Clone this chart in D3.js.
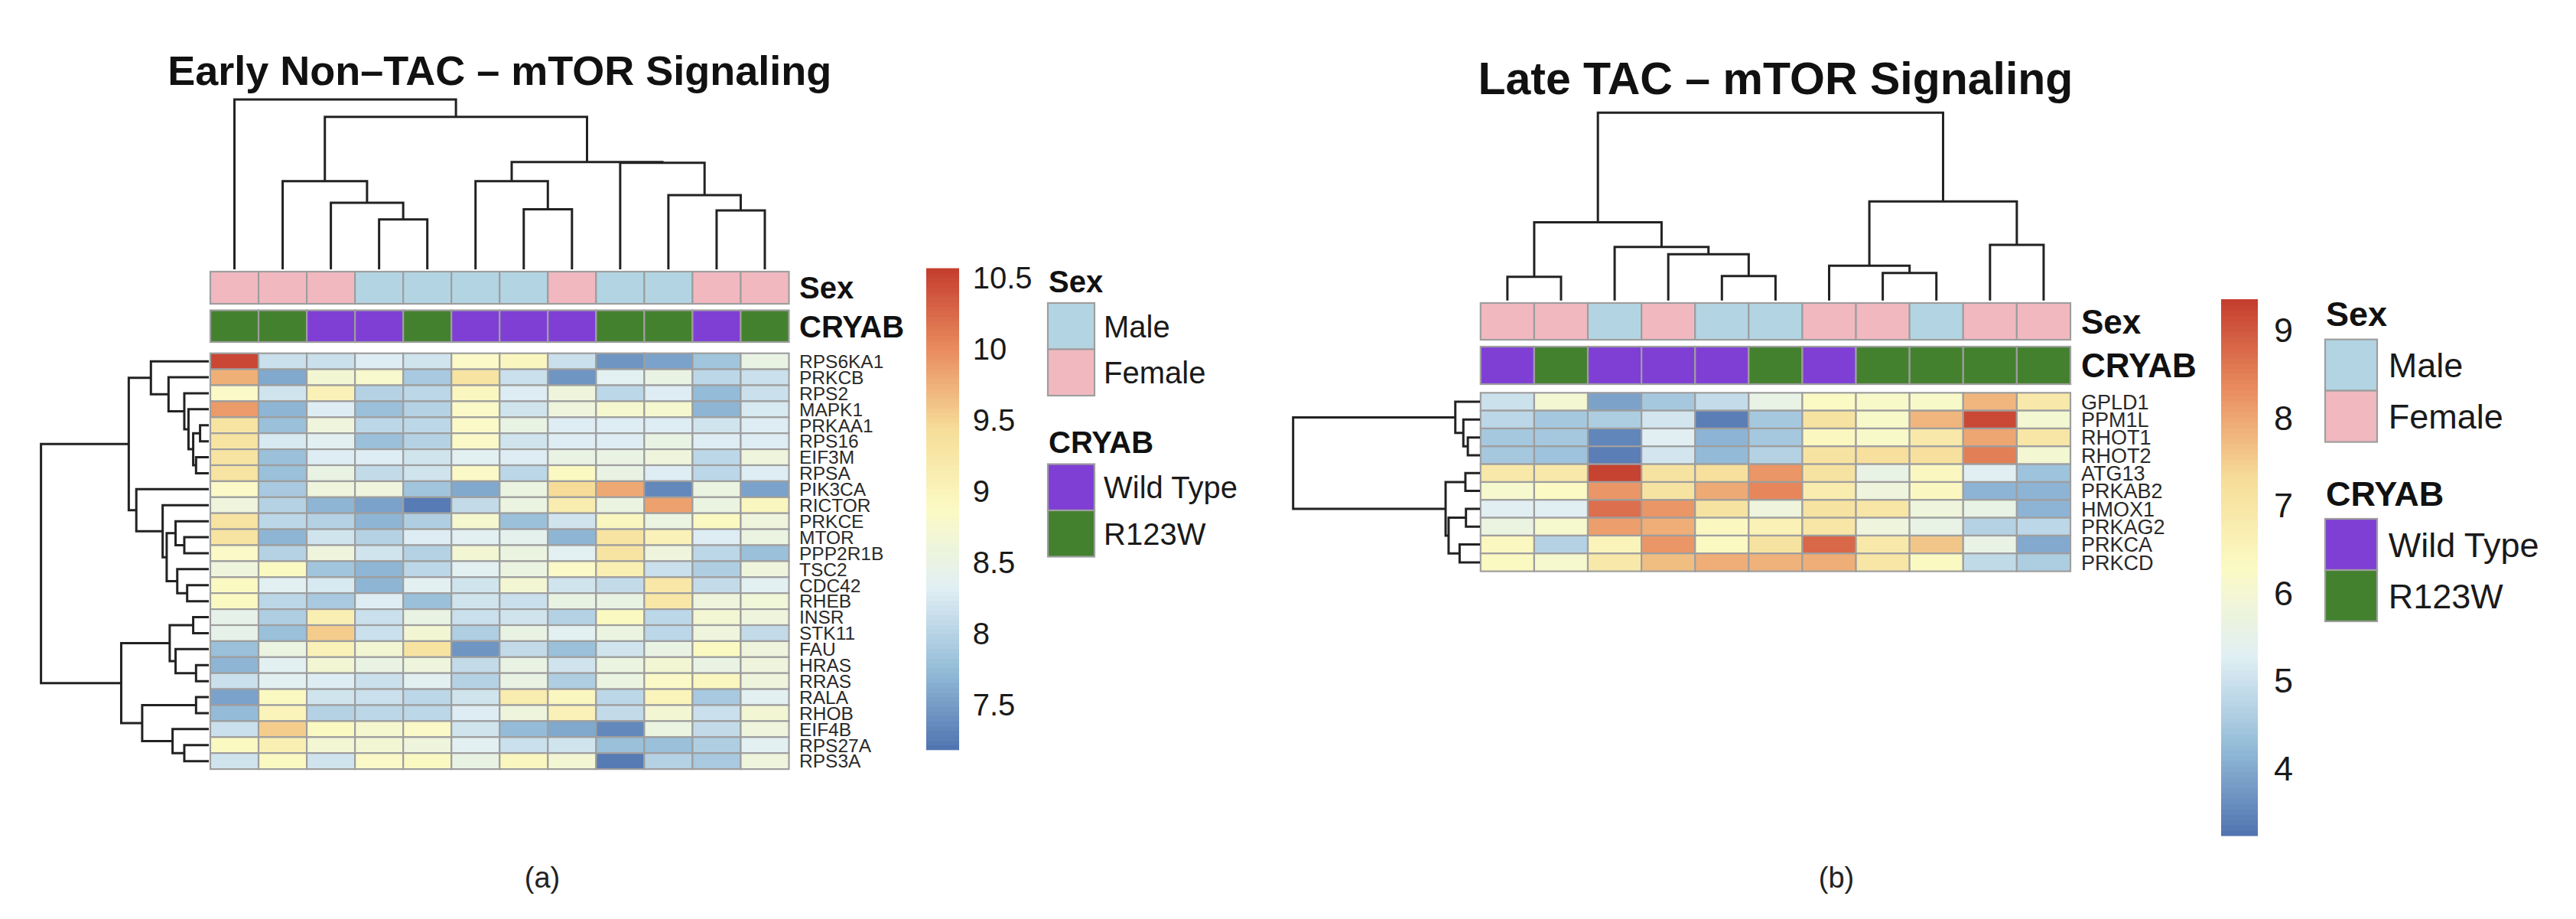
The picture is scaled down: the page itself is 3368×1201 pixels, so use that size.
<!DOCTYPE html>
<html><head><meta charset="utf-8">
<script src="https://cdn.jsdelivr.net/npm/d3@7"></script>
<style>
body{margin:0;background:#fff}
svg{display:block}
text{font-family:"Liberation Sans",Arial,Helvetica,sans-serif}
</style>
</head><body>
<svg id="chart" width="3368" height="1201"></svg>
<script>
// ===================== DATA =====================
const palette = ["#5073B0","#94BCD8","#E0EFF4","#FBFAC4","#F6DD98","#E98B5E","#C43D2E"];
const sexLevels = ["Male","Female"];
const sexColors = ["#B3D5E3","#F2B8C0"];
const cryabLevels = ["Wild Type","R123W"];
const cryabColors = ["#7F3FD5","#44812F"];

// ---- Panel (a): Early Non-TAC ----
const leftTitle = "Early Non\u2013TAC \u2013 mTOR Signaling";
const leftGenes = ["RPS6KA1","PRKCB","RPS2","MAPK1","PRKAA1","RPS16","EIF3M","RPSA","PIK3CA","RICTOR","PRKCE","MTOR","PPP2R1B","TSC2","CDC42","RHEB","INSR","STK11","FAU","HRAS","RRAS","RALA","RHOB","EIF4B","RPS27A","RPS3A"];
const leftSex = ["Female","Female","Female","Male","Male","Male","Male","Female","Male","Male","Female","Female"];
const leftCryab = ["R123W","R123W","Wild Type","Wild Type","R123W","Wild Type","Wild Type","Wild Type","R123W","R123W","Wild Type","R123W"];
const leftValues = [
  [10.5,8.15,8.15,8.3,8.2,8.85,8.95,8.15,7.45,7.55,7.85,8.5],
  [9.75,7.6,8.7,8.8,7.9,9.3,8.15,7.45,8.35,8.5,8.05,8.15],
  [8.85,8.2,9.05,8.0,8.05,8.95,8.3,8.6,8.05,8.3,7.75,8.15],
  [9.9,7.7,8.3,7.8,8.0,8.85,8.2,8.6,8.75,8.75,7.7,8.25],
  [9.3,7.8,8.6,8.05,8.05,8.85,8.5,8.3,8.3,8.3,8.2,8.3],
  [9.3,8.25,8.35,7.8,8.0,8.85,8.2,8.3,8.3,8.5,8.3,8.3],
  [9.3,7.8,8.3,8.3,8.2,8.35,8.3,8.5,8.5,8.6,8.05,8.6],
  [9.3,7.8,8.5,8.1,8.2,8.85,8.05,8.9,8.5,8.3,8.05,8.3],
  [8.85,7.9,8.6,8.6,7.85,7.6,8.55,9.45,9.8,7.35,8.55,7.55],
  [8.6,8.0,7.7,7.55,7.25,8.1,8.55,9.15,8.55,9.85,8.55,8.95],
  [9.3,8.05,8.0,7.7,7.95,8.75,7.8,8.2,8.95,8.55,8.9,8.6],
  [9.3,7.7,8.2,8.0,8.3,8.35,8.4,7.7,9.3,9.05,8.3,8.55],
  [8.85,8.0,8.6,8.2,8.0,8.7,8.55,8.35,9.3,8.6,8.05,7.8],
  [8.6,8.9,7.85,7.7,8.05,8.35,8.55,8.85,9.1,8.15,7.95,8.6],
  [8.9,8.35,8.25,7.7,8.35,8.2,8.7,8.2,8.1,9.25,8.1,8.35],
  [8.9,8.05,7.9,8.3,7.8,8.2,8.15,8.5,8.5,9.25,8.6,8.65],
  [8.45,7.95,9.1,8.15,8.5,8.15,8.2,8.0,8.9,8.05,8.7,8.6],
  [8.45,7.8,9.55,8.15,8.7,7.95,8.5,8.35,8.55,8.05,8.6,8.1],
  [7.8,8.55,9.05,8.7,9.3,7.45,8.1,7.8,8.2,8.5,8.9,8.6],
  [7.7,8.35,8.7,8.5,8.6,8.1,8.5,8.2,8.55,8.7,8.5,8.6],
  [8.15,8.35,8.3,8.15,8.35,8.0,8.5,7.95,8.55,8.85,8.95,8.6],
  [7.55,8.9,8.2,8.15,8.05,8.2,9.15,8.95,8.05,9.0,7.9,8.35],
  [7.75,9.0,8.0,8.05,8.05,8.3,8.6,9.05,8.1,8.7,8.15,8.7],
  [8.15,9.55,8.9,8.75,8.85,8.2,7.75,7.6,7.35,8.55,8.1,8.6],
  [8.9,9.1,8.7,8.7,8.6,8.35,8.15,8.2,7.8,7.8,7.95,8.35],
  [8.2,8.9,8.2,8.85,8.9,8.5,8.95,8.7,7.25,8.0,7.9,8.6]
];
const leftRange = [7.19, 10.57];
const leftTicks = [7.5, 8, 8.5, 9, 9.5, 10, 10.5];
// hclust-style merges: negative = leaf -(index+1), positive = earlier merge (1-based); third = height
const leftColMerge = [
  [-4,-5,2.94],[-3,1,3.92],[-2,2,5.19],[-7,-8,3.54],[-6,4,5.19],[-11,-12,3.47],
  [-10,6,4.37],[-9,7,6.27],[5,8,6.32],[3,9,8.98],[-1,10,10.0]
];
const leftRowMerge = [
  [-5,-6,0.52],[-7,-8,0.76],[1,2,0.93],[-4,3,1.21],[-3,4,1.46],[-2,5,2.40],[-1,6,3.45],
  [-12,-13,1.46],[-11,8,1.98],[-15,-16,1.29],[-14,10,1.88],[9,11,2.51],[-10,12,2.75],
  [-9,13,4.32],[7,14,4.77],[-17,-18,0.93],[-20,-21,0.76],[-19,17,1.98],[16,18,2.33],
  [-22,-23,0.76],[-25,-26,1.46],[-24,21,2.16],[20,22,3.97],[19,23,5.22],[15,24,10.0]
];

// ---- Panel (b): Late TAC ----
const rightTitle = "Late TAC \u2013 mTOR Signaling";
const rightGenes = ["GPLD1","PPM1L","RHOT1","RHOT2","ATG13","PRKAB2","HMOX1","PRKAG2","PRKCA","PRKCD"];
const rightSex = ["Female","Female","Male","Female","Male","Male","Female","Female","Male","Female","Female"];
const rightCryab = ["Wild Type","R123W","Wild Type","Wild Type","Wild Type","R123W","Wild Type","R123W","R123W","R123W","R123W"];
const rightValues = [
  [5.0,6.0,3.9,4.5,4.9,5.6,6.3,6.2,6.2,7.8,6.9],
  [4.8,4.5,4.6,5.1,3.4,4.5,7.1,6.2,7.8,9.2,6.0],
  [4.5,4.5,3.5,5.3,4.15,4.5,6.4,6.2,6.9,8.0,7.0],
  [4.5,4.4,3.4,5.1,4.25,4.7,7.1,7.2,7.2,8.5,6.0],
  [6.9,6.9,9.3,7.1,7.2,8.2,7.1,5.6,6.4,5.3,4.4],
  [6.1,6.3,8.2,7.1,7.95,8.4,6.8,5.8,6.4,4.15,4.15],
  [5.3,5.3,8.7,8.2,7.1,5.8,7.1,7.0,5.8,5.6,4.15],
  [5.7,6.1,8.1,7.9,6.4,6.6,7.0,5.8,5.6,4.7,4.8],
  [6.4,4.7,6.5,8.2,6.35,7.1,8.8,6.9,7.6,5.6,4.0],
  [6.35,6.1,6.9,7.7,7.9,7.85,7.9,7.0,6.35,4.85,4.6]
];
const rightRange = [3.24, 9.36];
const rightTicks = [4, 5, 6, 7, 8, 9];
const rightColMerge = [
  [-1,-2,1.26],[-5,-6,1.30],[-4,2,2.46],[-3,3,2.85],[1,4,4.16],
  [-8,-9,1.47],[-7,6,1.85],[-10,-11,2.96],[7,8,5.27],[5,9,10.0]
];
const rightRowMerge = [
  [-3,-4,0.65],[-2,1,0.89],[-1,2,1.32],[-5,-6,0.78],[-7,-8,0.75],[-9,-10,1.09],
  [5,6,1.68],[4,7,1.84],[3,8,10.0]
];

const panelLabels = ["(a)","(b)"];

// ===================== LAYOUT =====================
const layouts = [
  { cols:[275,1031.5], rows:[461.7,1005.1], sexBar:[355,397], cryBar:[405.5,447],
    colDendro:[352,130], rowDendro:[273,53.6], titleY:111, titleSize:54,
    labelX:1045, rowFont:24.5, annFont:40,
    cbar:{x:1211,w:43,y:[979.7,350.5]}, tickPad:17.7,
    legend:{x:1370,boxW:61,boxH:60.5,sexTitleY:381.6,sexBoxY:396,cryTitleY:592,cryBoxY:606.5,labelX:1443,font:40},
    panelLabel:{x:709,y:1160} },
  { cols:[1935.8,2707], rows:[513.3,746.6], sexBar:[396,444], cryBar:[453,502],
    colDendro:[392.7,147.3], rowDendro:[1935,1690.7], titleY:123.3, titleSize:59,
    labelX:2721, rowFont:27, annFont:44,
    cbar:{x:2904,w:48,y:[1092,391]}, tickPad:21,
    legend:{x:3040,boxW:68,boxH:67,sexTitleY:426,sexBoxY:443.6,cryTitleY:661,cryBoxY:678,labelX:3122.7,font:45},
    panelLabel:{x:2401,y:1160} }
];

const panels = [
  {title:leftTitle, genes:leftGenes, sex:leftSex, cryab:leftCryab, values:leftValues, range:leftRange, ticks:leftTicks, colMerge:leftColMerge, rowMerge:leftRowMerge, label:panelLabels[0]},
  {title:rightTitle, genes:rightGenes, sex:rightSex, cryab:rightCryab, values:rightValues, range:rightRange, ticks:rightTicks, colMerge:rightColMerge, rowMerge:rightRowMerge, label:panelLabels[1]}
];

const svg = d3.select("#chart");
const BORDER = "#9e9e9e", LINE = "#222", TEXT = "#111";

const sexScale = d3.scaleOrdinal().domain(sexLevels).range(sexColors);
const cryScale = d3.scaleOrdinal().domain(cryabLevels).range(cryabColors);

function dendro(merge, leafPos) {
  const pos = [], hgt = [], segs = [];
  const get = c => c < 0 ? {p: leafPos(-c - 1), h: 0} : {p: pos[c - 1], h: hgt[c - 1]};
  merge.forEach(([a, b, h]) => {
    const A = get(a), B = get(b);
    pos.push((A.p + B.p) / 2); hgt.push(h);
    segs.push({A, B, h});
  });
  return segs;
}

panels.forEach((d, pi) => {
  const L = layouts[pi];
  const g = svg.append("g");
  const nCol = d.sex.length, nRow = d.genes.length;
  const x = d3.scaleBand().domain(d3.range(nCol)).range(L.cols);
  const y = d3.scaleBand().domain(d3.range(nRow)).range(L.rows);
  const lo = d.range[0], hi = d.range[1];
  const color = d3.scaleLinear()
    .domain(d3.range(palette.length).map(i => lo + i * (hi - lo) / (palette.length - 1)))
    .range(palette).clamp(true);

  // title
  g.append("text").attr("x", (L.cols[0] + L.cols[1]) / 2).attr("y", L.titleY)
    .attr("text-anchor", "middle").attr("font-size", L.titleSize).attr("font-weight", "bold")
    .attr("fill", TEXT).text(d.title);

  // heatmap cells
  const cells = [];
  d.values.forEach((row, r) => row.forEach((v, c) => cells.push({r, c, v})));
  g.append("g").selectAll("rect").data(cells).join("rect")
    .attr("x", e => x(e.c)).attr("y", e => y(e.r))
    .attr("width", x.bandwidth()).attr("height", y.bandwidth())
    .attr("fill", e => color(e.v)).attr("stroke", BORDER).attr("stroke-width", 2.2);

  // annotation bars
  const bars = [
    {vals: d.sex, scale: sexScale, yr: L.sexBar, name: "Sex"},
    {vals: d.cryab, scale: cryScale, yr: L.cryBar, name: "CRYAB"}
  ];
  bars.forEach(b => {
    g.append("g").selectAll("rect").data(b.vals).join("rect")
      .attr("x", (v, i) => x(i)).attr("y", b.yr[0])
      .attr("width", x.bandwidth()).attr("height", b.yr[1] - b.yr[0])
      .attr("fill", v => b.scale(v)).attr("stroke", BORDER).attr("stroke-width", 2.2);
    g.append("text").attr("x", L.labelX).attr("y", (b.yr[0] + b.yr[1]) / 2).attr("dy", "0.36em")
      .attr("font-size", L.annFont).attr("font-weight", "bold").attr("fill", TEXT).text(b.name);
  });

  // row labels
  g.append("g").selectAll("text").data(d.genes).join("text")
    .attr("x", L.labelX).attr("y", (t, i) => y(i) + y.bandwidth() / 2).attr("dy", "0.36em")
    .attr("font-size", L.rowFont).attr("fill", "#2a2a2a").text(t => t);

  // column dendrogram
  const colH = d3.scaleLinear().domain([0, d3.max(d.colMerge, m => m[2])]).range(L.colDendro);
  const colSegs = dendro(d.colMerge, i => x(i) + x.bandwidth() / 2);
  g.append("g").selectAll("path").data(colSegs).join("path")
    .attr("d", s => {
      const p = d3.path();
      p.moveTo(s.A.p, colH(s.A.h)); p.lineTo(s.A.p, colH(s.h));
      p.lineTo(s.B.p, colH(s.h)); p.lineTo(s.B.p, colH(s.B.h));
      return p.toString();
    })
    .attr("fill", "none").attr("stroke", LINE).attr("stroke-width", 3);

  // row dendrogram
  const rowH = d3.scaleLinear().domain([0, d3.max(d.rowMerge, m => m[2])]).range(L.rowDendro);
  const rowSegs = dendro(d.rowMerge, i => y(i) + y.bandwidth() / 2);
  g.append("g").selectAll("path").data(rowSegs).join("path")
    .attr("d", s => {
      const p = d3.path();
      p.moveTo(rowH(s.A.h), s.A.p); p.lineTo(rowH(s.h), s.A.p);
      p.lineTo(rowH(s.h), s.B.p); p.lineTo(rowH(s.B.h), s.B.p);
      return p.toString();
    })
    .attr("fill", "none").attr("stroke", LINE).attr("stroke-width", 3);

  // color bar
  const cb = L.cbar;
  const cy = d3.scaleLinear().domain([lo, hi]).range(cb.y);
  const nSteps = 100, step = (hi - lo) / nSteps;
  g.append("g").selectAll("rect").data(d3.range(nSteps)).join("rect")
    .attr("x", cb.x).attr("width", cb.w)
    .attr("y", i => cy(lo + (i + 1) * step))
    .attr("height", i => cy(lo + i * step) - cy(lo + (i + 1) * step) + 0.6)
    .attr("fill", i => color(lo + (i + 0.5) * step));
  const axis = d3.axisRight(cy).tickValues(d.ticks).tickSize(0)
    .tickPadding(L.tickPad).tickFormat(v => String(v));
  const ag = g.append("g").attr("transform", `translate(${cb.x + cb.w},0)`).call(axis);
  ag.select(".domain").remove();
  ag.selectAll("text").attr("font-size", L.legend.font).attr("fill", "#1a1a1a")
    .attr("font-family", '"Liberation Sans",Arial,Helvetica,sans-serif');

  // discrete legends
  const lg = L.legend;
  const legends = [
    {name: "Sex", levels: sexLevels, scale: sexScale, titleY: lg.sexTitleY, boxY: lg.sexBoxY},
    {name: "CRYAB", levels: cryabLevels, scale: cryScale, titleY: lg.cryTitleY, boxY: lg.cryBoxY}
  ];
  legends.forEach(le => {
    const ly = d3.scaleBand().domain(le.levels).range([le.boxY, le.boxY + lg.boxH * le.levels.length]);
    g.append("text").attr("x", lg.x + 1).attr("y", le.titleY).attr("font-size", lg.font)
      .attr("font-weight", "bold").attr("fill", TEXT).text(le.name);
    g.append("g").selectAll("rect").data(le.levels).join("rect")
      .attr("x", lg.x).attr("y", v => ly(v)).attr("width", lg.boxW).attr("height", ly.bandwidth())
      .attr("fill", v => le.scale(v)).attr("stroke", BORDER).attr("stroke-width", 2.2);
    g.append("g").selectAll("text").data(le.levels).join("text")
      .attr("x", lg.labelX).attr("y", v => ly(v) + ly.bandwidth() / 2).attr("dy", "0.36em")
      .attr("font-size", lg.font).attr("fill", "#1a1a1a").text(v => v);
  });

  // panel label
  g.append("text").attr("x", L.panelLabel.x).attr("y", L.panelLabel.y).attr("text-anchor", "middle")
    .attr("font-size", 38).attr("fill", "#222").text(d.label);
});
</script>
</body></html>
